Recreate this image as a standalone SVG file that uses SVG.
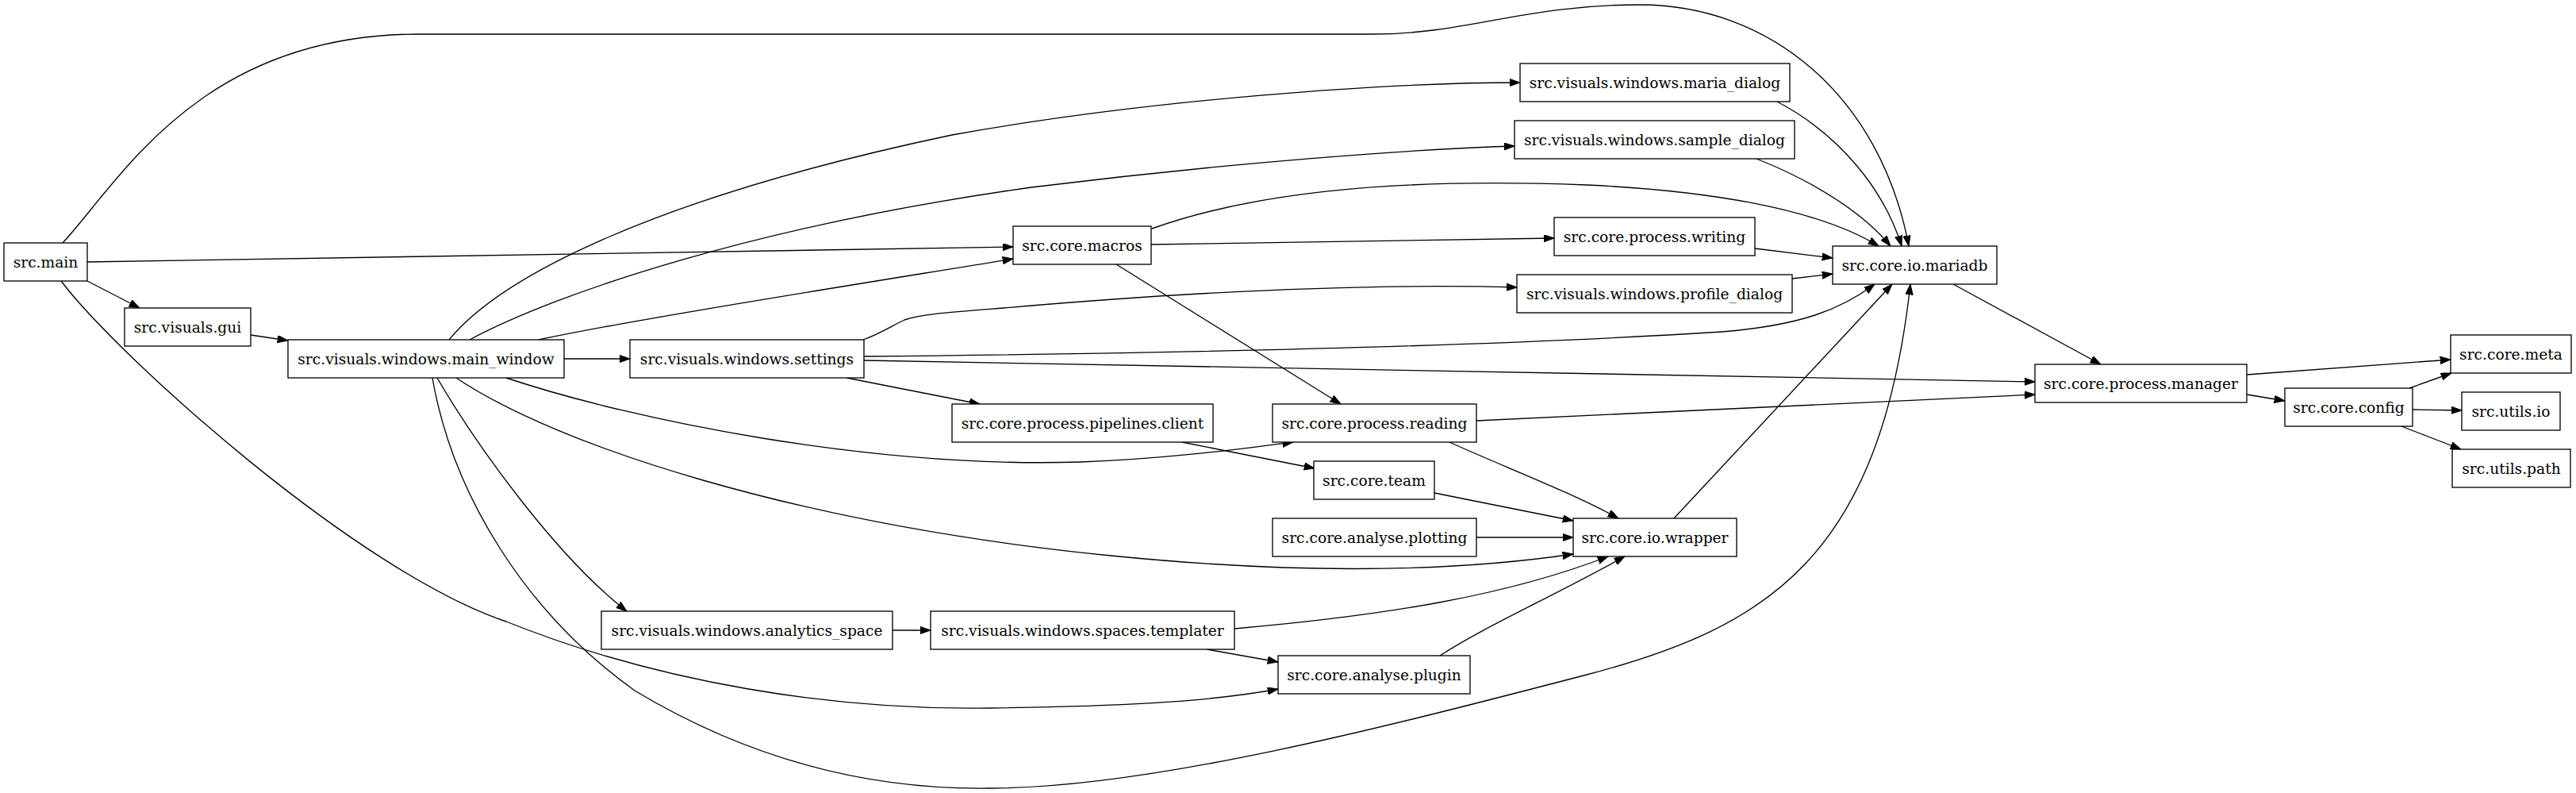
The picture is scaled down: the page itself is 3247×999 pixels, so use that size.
<svg xmlns="http://www.w3.org/2000/svg" width="3247" height="999" viewBox="0 0 3247 999">
<style>
.n rect{fill:#fff;stroke:#000;stroke-width:1.33}
.n text{font-family:"DejaVu Serif","Liberation Serif",serif;font-size:18.67px;text-anchor:middle;fill:#000}
.e path{fill:none;stroke:#000;stroke-width:1.33;marker-end:url(#ah)}
</style>
<defs>
<marker id="ah" markerWidth="14" markerHeight="10" refX="13.3" refY="4.65" orient="auto" markerUnits="userSpaceOnUse"><path d="M0,0 L13.3,4.65 L0,9.3 z" fill="#000" stroke="#000" stroke-width="1"/></marker>
</defs>
<rect width="3247" height="999" fill="#fff"/>
<g id="edges" class="e">
<path d="M79,306 C150,230 250,43 528,43 L1730,43 C1850,43 1920,6 2067,6 C2230,6 2370,120 2406,310"/>
<path d="M110,330 L1277,311"/>
<path d="M110,354 L176,388"/>
<path d="M77,354 C150,450 450,720 638,783 C830,860 1050,895 1247,892 C1400,890 1520,885 1611,868"/>
<path d="M316,422 L363,429"/>
<path d="M711,452 L794,452"/>
<path d="M679,428 C800,402 1100,355 1277,326"/>
<path d="M566,428 C630,350 820,250 1200,170 C1450,125 1750,104 1916,104"/>
<path d="M592,428 C700,370 950,285 1300,236 C1550,205 1780,188 1909,184"/>
<path d="M638,476 C800,530 1100,590 1362,582 C1470,578 1560,566 1630,557"/>
<path d="M575,476 C700,560 1000,660 1400,700 C1600,720 1800,725 1983,698"/>
<path d="M551,476 C600,560 700,700 790,770"/>
<path d="M545,476 C570,620 660,770 800,870 C950,960 1100,995 1247,993 C1450,993 1750,915 2000,850 C2230,790 2370,700 2408,358"/>
<path d="M1088,428 C1110,420 1125,410 1140,403 C1160,396 1190,394 1265,388 C1450,372 1700,356 1912,362"/>
<path d="M1089,449 C1500,445 1900,435 2170,418 C2270,410 2320,390 2363,358"/>
<path d="M1089,454 L2565,481"/>
<path d="M1067,476 L1235,509"/>
<path d="M1452,288 C1600,235 1800,225 2000,233 C2150,240 2290,262 2368,310"/>
<path d="M1451,308 L1959,300"/>
<path d="M1407,333 L1690,509"/>
<path d="M2240,128 C2320,170 2375,240 2397,310"/>
<path d="M2214,200 C2290,230 2350,270 2383,310"/>
<path d="M2212,313 L2310,325"/>
<path d="M2259,351 L2310,345"/>
<path d="M2462,358 L2648,459"/>
<path d="M1861,530 L2565,497"/>
<path d="M1827,557 C1900,590 1980,620 2040,653"/>
<path d="M1490,557 L1657,590"/>
<path d="M1808,621 L1983,656"/>
<path d="M1861,677 L1983,677"/>
<path d="M2110,653 L2385,358"/>
<path d="M1125,794 L1173,794"/>
<path d="M1556,792 C1750,775 1900,750 2027,701"/>
<path d="M1521,818 L1611,834"/>
<path d="M1815,826 C1870,790 1950,755 2048,701"/>
<path d="M2832,472 L3089,453"/>
<path d="M2832,497 L2880,505"/>
<path d="M3037,489 L3090,470"/>
<path d="M3041,516 L3103,517"/>
<path d="M3027,537 L3102,566"/>
</g>
<g id="src.main" class="n"><rect x="5" y="306" width="105" height="48"/><text x="57.5" y="336.5">src.main</text></g>
<g id="src.visuals.gui" class="n"><rect x="157" y="388" width="159" height="48"/><text x="236.5" y="418.5">src.visuals.gui</text></g>
<g id="src.visuals.windows.main_window" class="n"><rect x="363" y="428" width="348" height="48"/><text x="537" y="458.5">src.visuals.windows.main_window</text></g>
<g id="src.visuals.windows.settings" class="n"><rect x="794" y="428" width="295" height="48"/><text x="941.5" y="458.5">src.visuals.windows.settings</text></g>
<g id="src.core.macros" class="n"><rect x="1277" y="285" width="174" height="48"/><text x="1364" y="315.5">src.core.macros</text></g>
<g id="src.visuals.windows.maria_dialog" class="n"><rect x="1916" y="80" width="340" height="48"/><text x="2086" y="110.5">src.visuals.windows.maria_dialog</text></g>
<g id="src.visuals.windows.sample_dialog" class="n"><rect x="1909" y="152" width="353" height="48"/><text x="2085.5" y="182.5">src.visuals.windows.sample_dialog</text></g>
<g id="src.core.process.writing" class="n"><rect x="1959" y="274" width="253" height="48"/><text x="2085.5" y="304.5">src.core.process.writing</text></g>
<g id="src.visuals.windows.profile_dialog" class="n"><rect x="1912" y="346" width="347" height="48"/><text x="2085.5" y="376.5">src.visuals.windows.profile_dialog</text></g>
<g id="src.core.io.mariadb" class="n"><rect x="2310" y="310" width="207" height="48"/><text x="2413.5" y="340.5">src.core.io.mariadb</text></g>
<g id="src.core.process.manager" class="n"><rect x="2565" y="459" width="267" height="48"/><text x="2698.5" y="489.5">src.core.process.manager</text></g>
<g id="src.core.config" class="n"><rect x="2880" y="489" width="161" height="48"/><text x="2960.5" y="519.5">src.core.config</text></g>
<g id="src.core.meta" class="n"><rect x="3089" y="422" width="152" height="48"/><text x="3165" y="452.5">src.core.meta</text></g>
<g id="src.utils.io" class="n"><rect x="3103" y="494" width="124" height="48"/><text x="3165" y="524.5">src.utils.io</text></g>
<g id="src.utils.path" class="n"><rect x="3091" y="566" width="149" height="48"/><text x="3165.5" y="596.5">src.utils.path</text></g>
<g id="src.core.process.pipelines.client" class="n"><rect x="1200" y="509" width="329" height="48"/><text x="1364.5" y="539.5">src.core.process.pipelines.client</text></g>
<g id="src.core.process.reading" class="n"><rect x="1604" y="509" width="257" height="48"/><text x="1732.5" y="539.5">src.core.process.reading</text></g>
<g id="src.core.team" class="n"><rect x="1656" y="581" width="152" height="48"/><text x="1732" y="611.5">src.core.team</text></g>
<g id="src.core.analyse.plotting" class="n"><rect x="1604" y="653" width="257" height="48"/><text x="1732.5" y="683.5">src.core.analyse.plotting</text></g>
<g id="src.core.io.wrapper" class="n"><rect x="1983" y="653" width="206" height="48"/><text x="2086" y="683.5">src.core.io.wrapper</text></g>
<g id="src.visuals.windows.analytics_space" class="n"><rect x="758" y="770" width="367" height="48"/><text x="941.5" y="800.5">src.visuals.windows.analytics_space</text></g>
<g id="src.visuals.windows.spaces.templater" class="n"><rect x="1173" y="770" width="383" height="48"/><text x="1364.5" y="800.5">src.visuals.windows.spaces.templater</text></g>
<g id="src.core.analyse.plugin" class="n"><rect x="1611" y="826" width="242" height="48"/><text x="1732" y="856.5">src.core.analyse.plugin</text></g>
</svg>
